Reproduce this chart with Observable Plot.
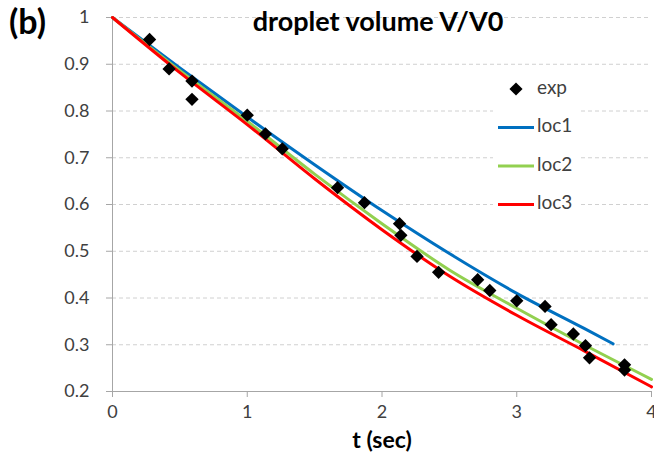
<!DOCTYPE html>
<html>
<head>
<meta charset="utf-8">
<script src="https://cdn.jsdelivr.net/npm/d3@7"></script>
<script src="https://cdn.jsdelivr.net/npm/@observablehq/plot@0.6"></script>
<style>
  body { margin: 0; background: #fff; }
  #chart { position: relative; width: 654px; height: 466px; }
  #chart svg { display: block; }
</style>
</head>
<body>
<div id="chart"></div>
<script>
// Measured droplet volume (V/V0) over time
const expT = [0.275, 0.42, 0.59, 0.59, 1.0, 1.135, 1.26, 1.67, 1.87, 2.13, 2.14, 2.26, 2.42, 2.71, 2.80, 3.0, 3.21, 3.255, 3.42, 3.51, 3.54, 3.80, 3.80];
const expV = [0.953, 0.890, 0.864, 0.825, 0.791, 0.751, 0.719, 0.636, 0.604, 0.559, 0.534, 0.489, 0.455, 0.439, 0.416, 0.394, 0.382, 0.343, 0.323, 0.298, 0.272, 0.257, 0.246];

// Model curves for the three locations
const loc1T = [0, 0.5, 1, 1.5, 2, 2.5, 3, 3.5, 3.715];
const loc1V = [1, 0.892, 0.787, 0.685, 0.587, 0.495, 0.410, 0.335, 0.302];
const loc2T = [0, 0.5, 1, 1.5, 2, 2.5, 3, 3.5, 4];
const loc2V = [1, 0.886, 0.778, 0.665, 0.559, 0.460, 0.378, 0.300, 0.226];
const loc3T = [0, 0.5, 1, 1.5, 2, 2.5, 3, 3.5, 4];
const loc3V = [1, 0.882, 0.771, 0.655, 0.546, 0.447, 0.363, 0.287, 0.210];

const seriesNames = ["exp", "loc1", "loc2", "loc3"];
const seriesColors = ["#000000", "#0070C0", "#92D050", "#FF0000"];

const xTicks = [0, 1, 2, 3, 4];
const yTicks = [0.2, 0.3, 0.4, 0.5, 0.6, 0.7, 0.8, 0.9, 1];
const gridTicks = [0.3, 0.4, 0.5, 0.6, 0.7, 0.8, 0.9, 1];

const titleText = "droplet volume V/V0";
const xLabelText = "t (sec)";
const panelTag = "(b)";

const expData = expT.map((t, i) => ({t, v: expV[i]}));
const curves = [
  {name: "loc1", t: loc1T, v: loc1V},
  {name: "loc2", t: loc2T, v: loc2V},
  {name: "loc3", t: loc3T, v: loc3V}
].flatMap(s => s.t.map((t, i) => ({series: s.name, t, v: s.v[i]})));

const colorOf = Object.fromEntries(seriesNames.map((n, i) => [n, seriesColors[i]]));
const axisGray = "#a6a6a6";
const textColor = "#404040";
const font = "Lato, 'Open Sans', sans-serif";

const chart = Plot.plot({
  width: 654,
  height: 466,
  marginLeft: 112,
  marginRight: 3,
  marginTop: 17,
  marginBottom: 75,
  style: {fontFamily: font, fontSize: "18px", color: textColor, background: "#fff", overflow: "visible"},
  x: {domain: [0, 4]},
  y: {domain: [0.2, 1]},
  marks: [
    Plot.gridY(gridTicks, {stroke: "#d0d0d0", strokeOpacity: 1, strokeDasharray: "4,3", strokeWidth: 1}),
    Plot.axisX(xTicks, {tickSize: 6, tickPadding: 8, stroke: axisGray, fill: textColor, fontSize: 18, label: null,
      tickFormat: d => String(d)}),
    Plot.axisY(yTicks, {tickSize: 6, tickPadding: 17, stroke: axisGray, fill: textColor, fontSize: 18, label: null,
      tickFormat: d => d === 1 ? "1" : d.toFixed(1)}),
    Plot.ruleX([0], {stroke: axisGray, strokeWidth: 1}),
    Plot.ruleY([0.2], {stroke: axisGray, strokeWidth: 1}),
    Plot.line(curves, {x: "t", y: "v", z: "series", stroke: d => colorOf[d.series], strokeWidth: 3, curve: "monotone-x"}),
    Plot.dot(expData, {x: "t", y: "v", symbol: "diamond2", r: 6, fill: "#000", stroke: "none"}),
    Plot.text([titleText], {frameAnchor: "top", dx: -4, dy: 5, fontSize: 27, fontWeight: "bold", fill: "#000", lineAnchor: "middle"}),
    Plot.text([xLabelText], {frameAnchor: "bottom", dy: 49, fontSize: 23, fontWeight: "bold", fill: "#000", lineAnchor: "middle"})
  ]
});

const svg = d3.select(chart);

// panel tag in the top-left corner
svg.append("text")
  .attr("x", 9).attr("y", 25)
  .attr("text-anchor", "start")
  .attr("dominant-baseline", "middle")
  .attr("font-family", font)
  .attr("font-size", 34).attr("font-weight", "bold").attr("fill", "#000")
  .text(panelTag);

// legend box inside the plot
const lg = svg.append("g").attr("font-family", font).attr("font-size", 19).attr("text-anchor", "start");
lg.append("rect").attr("x", 493).attr("y", 67).attr("width", 85).attr("height", 156).attr("fill", "#fff");
seriesNames.forEach((name, i) => {
  const y = 89 + i * 38.5;
  if (name === "exp") {
    lg.append("path")
      .attr("d", d3.symbol(d3.symbolDiamond2, 110)())
      .attr("transform", `translate(516,${y})`)
      .attr("fill", colorOf[name]);
  } else {
    lg.append("line")
      .attr("x1", 498).attr("x2", 534).attr("y1", y).attr("y2", y)
      .attr("stroke", colorOf[name]).attr("stroke-width", 3);
  }
  lg.append("text")
    .attr("x", 537).attr("y", y)
    .attr("dominant-baseline", "middle")
    .attr("fill", textColor)
    .text(name);
});

document.getElementById("chart").appendChild(chart);
</script>
</body>
</html>
